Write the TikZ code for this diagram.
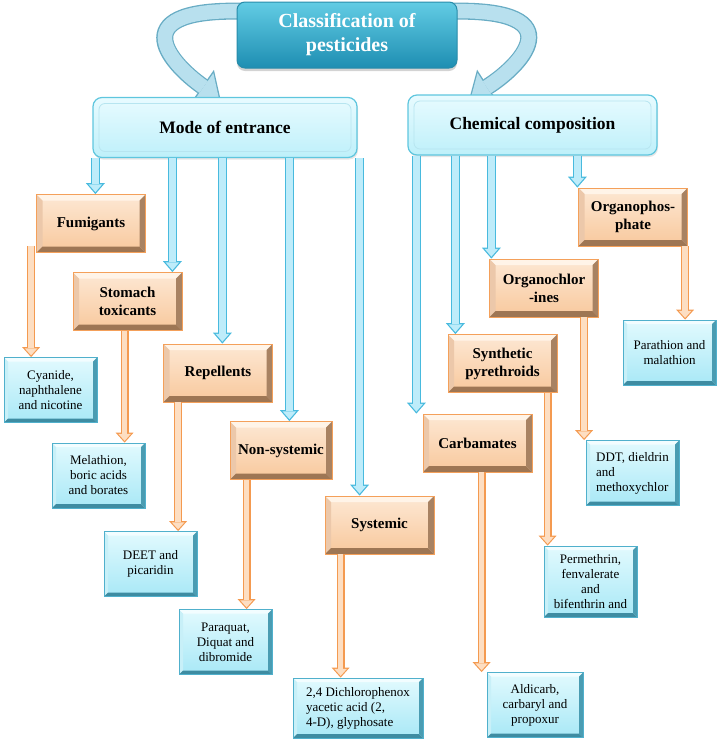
\documentclass[tikz,border=0pt]{standalone}
\usepackage{fontspec}
\setmainfont{Liberation Serif}
\usetikzlibrary{arrows.meta, shadows, backgrounds}

\definecolor{titletop}{RGB}{98,204,228}
\definecolor{titlebot}{RGB}{30,142,178}
\definecolor{titleedge}{RGB}{40,140,170}
\definecolor{headedge}{RGB}{95,198,222}
\definecolor{headtop}{RGB}{232,251,255}
\definecolor{headbot}{RGB}{190,240,250}
\definecolor{catedge}{RGB}{244,160,90}
\definecolor{cattop}{RGB}{253,232,212}
\definecolor{catbot}{RGB}{248,200,156}
\definecolor{catlight}{RGB}{255,244,232}
\definecolor{catside}{RGB}{236,200,170}
\definecolor{catdark}{RGB}{158,118,84}
\definecolor{catdarkside}{RGB}{168,130,98}
\definecolor{leafedge}{RGB}{80,176,204}
\definecolor{leaftop}{RGB}{226,250,254}
\definecolor{leafbot}{RGB}{168,232,246}
\definecolor{leaflight}{RGB}{242,253,255}
\definecolor{leafside}{RGB}{200,240,248}
\definecolor{leafdark}{RGB}{62,140,162}
\definecolor{leafdarkside}{RGB}{74,156,178}
\definecolor{arrowblue}{RGB}{72,186,222}
\definecolor{arrowbluefill}{RGB}{190,236,250}
\definecolor{arroworange}{RGB}{244,154,80}
\definecolor{arroworangefill}{RGB}{253,222,194}
\definecolor{ribbonedge}{RGB}{104,172,196}
\definecolor{ribbonfill}{RGB}{184,224,238}

\newcommand{\bevelfaces}[5]{%
  \fill[#2] (path picture bounding box.north west) -- (path picture bounding box.north east)
    -- ([xshift=-#1,yshift=-#1]path picture bounding box.north east)
    -- ([xshift=#1,yshift=-#1]path picture bounding box.north west) -- cycle;
  \fill[#3] (path picture bounding box.north west) -- ([xshift=#1,yshift=-#1]path picture bounding box.north west)
    -- ([xshift=#1,yshift=#1]path picture bounding box.south west)
    -- (path picture bounding box.south west) -- cycle;
  \fill[#4] (path picture bounding box.south west) -- (path picture bounding box.south east)
    -- ([xshift=-#1,yshift=#1]path picture bounding box.south east)
    -- ([xshift=#1,yshift=#1]path picture bounding box.south west) -- cycle;
  \fill[#5] (path picture bounding box.north east) -- (path picture bounding box.south east)
    -- ([xshift=-#1,yshift=#1]path picture bounding box.south east)
    -- ([xshift=-#1,yshift=-#1]path picture bounding box.north east) -- cycle;
}

\tikzset{
  titlebox/.style={rounded corners=8pt, draw=titleedge, line width=1pt, top color=titletop, bottom color=titlebot,
    text=white, align=center, font=\bfseries\fontsize{20}{24}\selectfont, minimum width=220pt, minimum height=66pt,
    drop shadow={shadow xshift=0pt, shadow yshift=-3pt, opacity=0.35}},
  headbox/.style={rounded corners=9pt, draw=headedge, line width=1.2pt, top color=headtop, bottom color=headbot,
    font=\bfseries\fontsize{17.5}{21}\selectfont, minimum height=60pt,
    drop shadow={shadow xshift=1pt, shadow yshift=-2pt, opacity=0.2},
    path picture={\draw[headedge!45, line width=0.8pt, rounded corners=6pt]
      ([xshift=6pt,yshift=6pt]path picture bounding box.south west) rectangle
      ([xshift=-6pt,yshift=-6pt]path picture bounding box.north east);}},
  catbox/.style={draw=catedge, line width=0.8pt, top color=cattop, bottom color=catbot,
    minimum width=109pt, minimum height=58pt, inner sep=2pt, align=center,
    font=\bfseries\fontsize{15}{18}\selectfont,
    path picture={\bevelfaces{6pt}{catlight}{catside}{catdark}{catdarkside}}},
  leafbox/.style={draw=leafedge, line width=0.8pt, top color=leaftop, bottom color=leafbot,
    minimum width=93pt, minimum height=65pt, inner sep=2pt, align=center,
    font=\fontsize{13}{15}\selectfont,
    path picture={\bevelfaces{4pt}{leaflight}{leafside}{leafdark}{leafdarkside}}},
  bluearr/.style={line width=9pt, draw=arrowblue, -{Triangle[length=11pt,width=19pt,line width=0pt]},
    postaction={draw=arrowbluefill, line width=6.4pt, shorten >=1.9pt,
      -{Triangle[length=7.8pt,width=13.5pt,line width=0pt]}}},
  orangearr/.style={line width=8pt, draw=arroworange, -{Triangle[length=10pt,width=18pt,line width=0pt]},
    postaction={draw=arroworangefill, line width=5.6pt, shorten >=1.7pt,
      -{Triangle[length=7pt,width=12.6pt,line width=0pt]}}},
  ribbon/.style={line width=17pt, draw=ribbonedge, -{Triangle[length=22pt,width=40pt,line width=0pt]},
    postaction={draw=ribbonfill, line width=14.4pt, shorten >=2pt,
      -{Triangle[length=18.6pt,width=34pt,line width=0pt]}}}
}

\begin{document}
\begin{tikzpicture}[x=1pt, y=-1pt]
  \useasboundingbox (0,0) rectangle (721,745);

  \node[titlebox] (title) at (347,35) {Classification of\\pesticides};
  \node[headbox, minimum width=264pt] (mode) at (225,127.5) {Mode of entrance};
  \node[headbox, minimum width=249pt] (chem) at (532.5,125) {Chemical composition};

  \begin{pgfonlayer}{background}
    \draw[ribbon] ([xshift=15pt,yshift=-10pt]title.north west) .. controls (120,6) and (168,62) .. ([xshift=128pt,yshift=-2pt]mode.north west);
    \draw[ribbon] ([xshift=-15pt,yshift=-10pt]title.north east) .. controls (574,6) and (526,62) .. ([xshift=62pt,yshift=-4pt]chem.north west);
  \end{pgfonlayer}

  \node[catbox] (fum) at (91,223.5) {Fumigants};
  \node[catbox] (stom) at (127.5,301.5) {Stomach\\toxicants};
  \node[catbox] (rep) at (218,373) {Repellents};
  \node[catbox, minimum width=102pt] (nonsys) at (281,450.5) {Non-systemic};
  \node[catbox] (sys) at (379.5,525) {Systemic};
  \node[catbox] (carb) at (477.5,443) {Carbamates};
  \node[catbox] (synth) at (502.5,363.5) {Synthetic\\pyrethroids};
  \node[catbox] (orgcl) at (544,288) {Organochlor\\-ines};
  \node[catbox] (orgph) at (633,217) {Organophos-\\phate};

  \node[leafbox] (cyan) at (50.5,390) {Cyanide,\\naphthalene\\and nicotine};
  \node[leafbox] (mela) at (98.5,475.5) {Melathion,\\boric acids\\and borates};
  \node[leafbox] (deet) at (150.5,564) {DEET and\\picaridin};
  \node[leafbox] (paraq) at (225.5,642) {Paraquat,\\Diquat and\\dibromide};
  \node[leafbox, minimum width=130pt, minimum height=60pt, align=left] (dich) at (358,708) {2,4 Dichlorophenox\\yacetic acid (2,\\4-D), glyphosate};
  \node[leafbox, minimum width=96pt] (aldi) at (535,705) {Aldicarb,\\carbaryl and\\propoxur};
  \node[leafbox, minimum height=71pt] (perm) at (590.5,581.5) {Permethrin,\\fenvalerate\\and\\bifenthrin and};
  \node[leafbox, align=left] (ddt) at (632.5,473) {DDT, dieldrin\\and\\methoxychlor};
  \node[leafbox] (parat) at (669.5,352.5) {Parathion and\\malathion};

  \draw[bluearr] ([xshift=3pt]mode.south west) -- ([xshift=3pt]mode.south west |- fum.north);
  \draw[bluearr] ([xshift=80pt]mode.south west) -- ([xshift=80pt]mode.south west |- stom.north);
  \draw[bluearr] ([xshift=130pt]mode.south west) -- ([xshift=130pt]mode.south west |- rep.north);
  \draw[bluearr] ([xshift=197pt]mode.south west) -- ([xshift=197pt]mode.south west |- nonsys.north);
  \draw[bluearr] ([xshift=2pt]mode.south east) -- ([xshift=2pt]mode.south east |- sys.north);
  \draw[bluearr] ([xshift=9pt]chem.south west) -- ([xshift=9pt]chem.south west |- carb.north);
  \draw[bluearr] ([xshift=48pt]chem.south west) -- ([xshift=48pt]chem.south west |- synth.north);
  \draw[bluearr] ([xshift=84pt]chem.south west) -- ([xshift=84pt]chem.south west |- orgcl.north);
  \draw[bluearr] ([xshift=170pt]chem.south west) -- ([xshift=170pt]chem.south west |- orgph.north);

  \draw[orangearr] ([xshift=-5pt,yshift=7pt]fum.south west) -- ([xshift=-5pt]fum.south west |- cyan.north);
  \draw[orangearr] ([xshift=52pt]stom.south west) -- ([xshift=52pt]stom.south west |- mela.north);
  \draw[orangearr] ([xshift=15pt]rep.south west) -- ([xshift=15pt]rep.south west |- deet.north);
  \draw[orangearr] ([xshift=17pt]nonsys.south west) -- ([xshift=17pt]nonsys.south west |- paraq.north);
  \draw[orangearr] ([xshift=16pt]sys.south west) -- ([xshift=16pt]sys.south west |- dich.north);
  \draw[orangearr] ([xshift=59pt]carb.south west) -- ([xshift=59pt]carb.south west |- aldi.north);
  \draw[orangearr] ([xshift=100pt]synth.south west) -- ([xshift=100pt]synth.south west |- perm.north);
  \draw[orangearr] ([xshift=95pt]orgcl.south west) -- ([xshift=95pt]orgcl.south west |- ddt.north);
  \draw[orangearr] ([xshift=107pt]orgph.south west) -- ([xshift=107pt]orgph.south west |- parat.north);
\end{tikzpicture}
\end{document}
